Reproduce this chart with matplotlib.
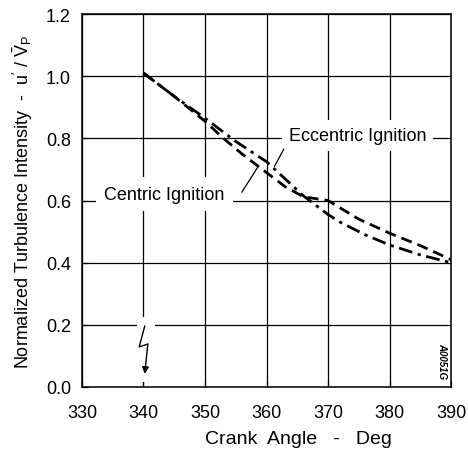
import numpy as np
import matplotlib
matplotlib.use('Agg')
import matplotlib.pyplot as plt
from matplotlib.patches import Rectangle

plt.rcParams['font.family'] = ['Liberation Sans', 'DejaVu Sans']
plt.rcParams['mathtext.fontset'] = 'custom'
plt.rcParams['mathtext.rm'] = 'Liberation Sans'
plt.rcParams['mathtext.it'] = 'Liberation Sans'

# data
angle_c = [340, 345, 350, 353, 356, 360, 363, 366, 370, 375, 380, 385, 390]
centric = [1.01, 0.935, 0.855, 0.80, 0.75, 0.69, 0.645, 0.612, 0.60, 0.54, 0.495, 0.455, 0.41]

angle_e = [340, 345, 350, 355, 360, 363, 366, 370, 372, 376, 380, 385, 390]
eccentric = [1.01, 0.935, 0.865, 0.79, 0.725, 0.67, 0.615, 0.555, 0.53, 0.49, 0.457, 0.425, 0.40]

xticks = [330, 340, 350, 360, 370, 380, 390]
yticks = [0.0, 0.2, 0.4, 0.6, 0.8, 1.0, 1.2]

fig = plt.figure(figsize=(4.68, 4.52), dpi=100)
ax = fig.add_axes([0.1752, 0.1416, 0.7885, 0.8252])

ax.plot(angle_c, centric, color='black', lw=2.0, ls=(0, (4, 2.2)), zorder=4)
ax.plot(angle_e, eccentric, color='black', lw=2.0, ls=(0, (5, 2, 1.2, 2)), zorder=4)

ax.set_xlim(330, 390)
ax.set_ylim(0, 1.2)
ax.set_xticks(xticks)
ax.set_yticks(yticks)
ax.set_yticklabels(['%.1f' % v for v in yticks])
ax.grid(True, color='black', lw=0.9, zorder=1)
ax.set_axisbelow(True)
ax.tick_params(direction='in', length=4, width=0.9, labelsize=13, pad=8)
ax.tick_params(axis='x', pad=12)
for s in ax.spines.values():
    s.set_linewidth(1.1)

ax.set_xlabel('Crank  Angle   -   Deg', fontsize=14, ha='left')
ax.xaxis.set_label_coords(0.333, -0.115)
ax.set_ylabel(r"Normalized Turbulence Intensity  -  u$'$ / $\bar{\mathrm{V}}_{\mathrm{P}}$",
              fontsize=13, labelpad=8)

# labels sitting on the grid, with leader lines
ax.text(333.6, 0.62, 'Centric Ignition', fontsize=13, ha='left', va='center',
        bbox=dict(facecolor='white', edgecolor='none', pad=6), zorder=3)
ax.plot([356.0, 358.5], [0.627, 0.705], color='black', lw=0.9, zorder=4)
ax.text(363.6, 0.81, 'Eccentric Ignition', fontsize=13, ha='left', va='center',
        bbox=dict(facecolor='white', edgecolor='none', pad=5), zorder=3)
ax.plot([361.3, 362.8], [0.71, 0.765], color='black', lw=0.9, zorder=4)

# axis break marker at 340
ax.add_patch(Rectangle((338.9, 0.017), 3.0, 0.208, facecolor='white',
                       edgecolor='none', zorder=2))
ax.plot([340.2, 339.3, 340.7], [0.196, 0.129, 0.138], color='black', lw=1.0, zorder=4)
ax.annotate('', xy=(340.2, 0.042), xytext=(340.7, 0.138),
            arrowprops=dict(arrowstyle='-|>', color='black', lw=1.0,
                            mutation_scale=10, shrinkA=0, shrinkB=0), zorder=4)

ax.text(388.5, 0.087, 'A0051G', fontsize=7, rotation=-90, ha='center', va='center',
        fontweight='bold', style='italic')

plt.savefig('out.png', dpi=100)
